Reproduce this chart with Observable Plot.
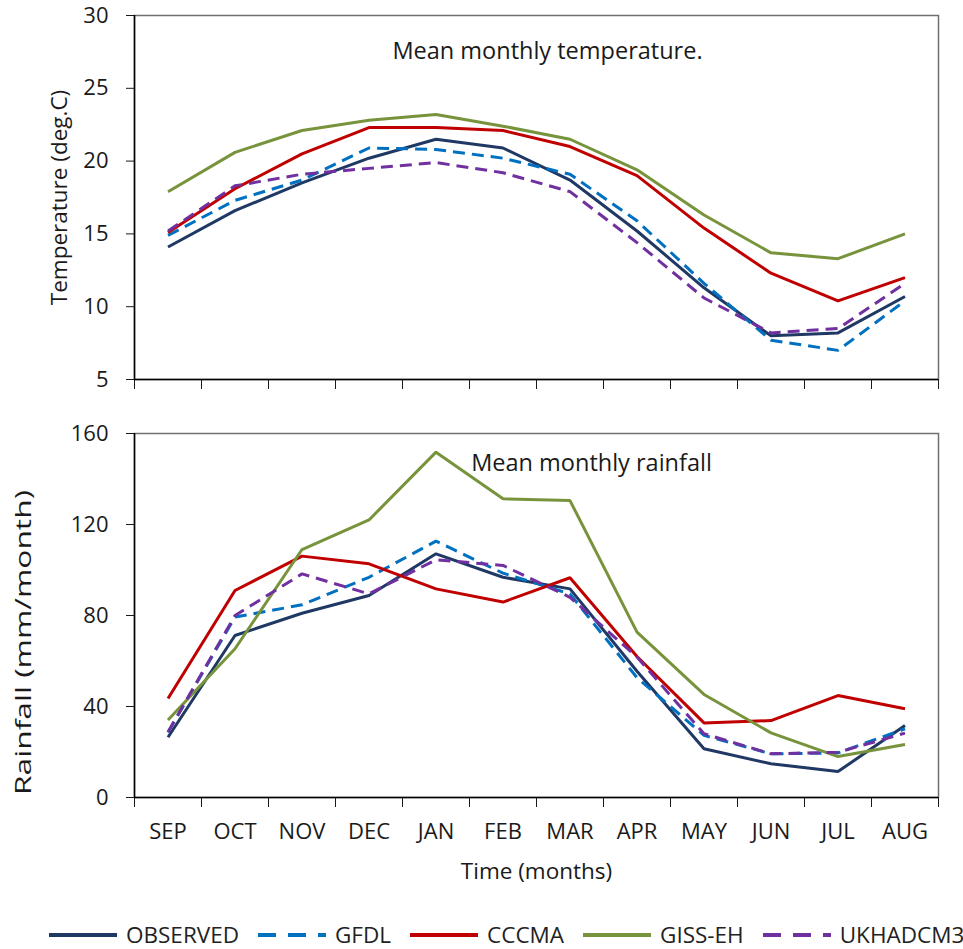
<!DOCTYPE html>
<html>
<head>
<meta charset="utf-8">
<script src="https://cdn.jsdelivr.net/npm/d3@7"></script>
<script src="https://cdn.jsdelivr.net/npm/@observablehq/plot@0.6"></script>
<style>
  html, body { margin: 0; padding: 0; background: #fff; overflow: hidden; }
  #wrap { position: relative; width: 963px; height: 949px; font-family: "Open Sans", sans-serif; color: #222; }
  #legend { position: absolute; left: 49px; top: 918px; display: flex; align-items: center; white-space: nowrap; font-size: 22.5px; line-height: 34px; }
  .item { display: flex; align-items: center; margin-right: 19px; }
  .item svg { margin-right: 9px; }
</style>
</head>
<body>
<div id="wrap"><div id="topChart"></div><div id="bottomChart"></div><div id="legend"></div></div>
<script>
const months = ["SEP","OCT","NOV","DEC","JAN","FEB","MAR","APR","MAY","JUN","JUL","AUG"];

const seriesNames = ["OBSERVED","GFDL","CCCMA","GISS-EH","UKHADCM3"];

const tempObserved = [14.1, 16.6, 18.5, 20.2, 21.5, 20.9, 18.7, 15.2, 11.3, 8.0, 8.2, 10.7];
const tempGFDL     = [14.9, 17.3, 18.7, 20.9, 20.8, 20.2, 19.1, 15.9, 11.6, 7.7, 7.0, 10.4];
const tempCCCMA    = [15.1, 18.1, 20.5, 22.3, 22.3, 22.1, 21.0, 19.0, 15.4, 12.3, 10.4, 12.0];
const tempGISS     = [17.9, 20.6, 22.1, 22.8, 23.2, 22.4, 21.5, 19.4, 16.3, 13.7, 13.3, 15.0];
const tempUKHADCM3 = [15.2, 18.3, 19.1, 19.5, 19.9, 19.2, 17.9, 14.4, 10.6, 8.2, 8.5, 11.6];

const rainObserved = [26.5, 71.2, 81.0, 88.8, 107.1, 96.8, 91.7, 55.5, 21.4, 14.8, 11.4, 31.6];
const rainGFDL     = [28.7, 79.3, 84.7, 96.8, 112.7, 98.6, 89.5, 52.7, 27.3, 19.2, 19.6, 30.2];
const rainCCCMA    = [43.5, 91.0, 106.1, 102.7, 91.7, 85.9, 96.6, 62.0, 32.8, 33.8, 44.8, 39.0];
const rainGISS     = [34.1, 65.4, 109.0, 122.0, 151.8, 131.3, 130.5, 72.7, 45.3, 28.4, 18.0, 23.3];
const rainUKHADCM3 = [28.7, 80.0, 98.3, 89.5, 104.5, 102.0, 88.0, 61.7, 28.0, 19.2, 19.9, 28.3];

const tempTicks = [5, 10, 15, 20, 25, 30];
const rainTicks = [0, 40, 80, 120, 160];

const colors = ["#1f3864", "#0070c0", "#c00000", "#77933c", "#7030a0"];
const dashes = [null, "12,7", null, null, "12,7"];

const tempSeries = [tempObserved, tempGFDL, tempCCCMA, tempGISS, tempUKHADCM3];
const rainSeries = [rainObserved, rainGFDL, rainCCCMA, rainGISS, rainUKHADCM3];

function lineMarks(series) {
  return series.map((vals, k) => Plot.line(vals, {
    x: (d, i) => i + 0.5,
    y: d => d,
    stroke: colors[k],
    strokeWidth: 3,
    strokeDasharray: dashes[k] || undefined,
    strokeLinejoin: "miter",
    strokeLinecap: "butt"
  }));
}

const baseStyle = { fontFamily: "Open Sans, sans-serif", fontSize: "22px", color: "#1a1a1a", background: "white", overflow: "visible" };

const topPlot = Plot.plot({
  width: 963, height: 400,
  marginLeft: 134, marginRight: 25, marginTop: 15, marginBottom: 21,
  style: baseStyle,
  x: { domain: [0, 12] },
  y: { domain: [5, 30] },
  marks: [
    Plot.frame({ stroke: "#6f6f6f", strokeWidth: 1.5 }),
    Plot.axisY({ ticks: tempTicks, tickSize: 8, tickPadding: 18, label: null, fontSize: 22 }),
    Plot.axisX({ ticks: d3.range(13), tickSize: 10, tickFormat: () => "", label: null }),
    Plot.ruleX([0], { stroke: "#000", strokeWidth: 1.5 }),
    Plot.ruleY([5], { stroke: "#000", strokeWidth: 1.5 }),
    ...lineMarks(tempSeries),
    Plot.text(["Mean monthly temperature."], { text: d => d, frameAnchor: "top", dx: 11, dy: 36, lineAnchor: "middle", fontSize: 23.5, fill: "#1a1a1a" }),
    Plot.text(["Temperature (deg.C)"], { text: d => d, frameAnchor: "left", dx: -75, rotate: -90, textAnchor: "middle", lineAnchor: "middle", fontSize: 22.5, fill: "#1a1a1a" })
  ]
});

const bottomPlot = Plot.plot({
  width: 963, height: 482,
  marginLeft: 134, marginRight: 25, marginTop: 33, marginBottom: 85,
  style: baseStyle,
  x: { domain: [0, 12] },
  y: { domain: [0, 160] },
  marks: [
    Plot.frame({ stroke: "#6f6f6f", strokeWidth: 1.5 }),
    Plot.axisY({ ticks: rainTicks, tickSize: 8, tickPadding: 18, label: null, fontSize: 22 }),
    Plot.axisX({ ticks: d3.range(13), tickSize: 10, tickFormat: () => "", label: null }),
    Plot.axisX({ ticks: d3.range(12).map(i => i + 0.5), tickSize: 0, tickPadding: 26, tickFormat: v => months[Math.floor(v)], label: null, fontSize: 22 }),
    Plot.ruleX([0], { stroke: "#000", strokeWidth: 1.5 }),
    Plot.ruleY([0], { stroke: "#000", strokeWidth: 1.5 }),
    ...lineMarks(rainSeries),
    Plot.text(["Mean monthly rainfall"], { text: d => d, frameAnchor: "top", dx: 55, dy: 30, lineAnchor: "middle", fontSize: 23.5, fill: "#1a1a1a" }),
    Plot.text(["Rainfall (mm/month)"], { text: d => d, frameAnchor: "left", dx: -111, dy: 27, rotate: -90, textAnchor: "middle", lineAnchor: "middle", fontSize: 22, fill: "#1a1a1a" }),
    Plot.text(["Time (months)"], { text: d => d, frameAnchor: "bottom", dy: 74, lineAnchor: "middle", fontSize: 22.5, fill: "#1a1a1a" })
  ]
});

document.getElementById("topChart").appendChild(topPlot);
document.getElementById("bottomChart").appendChild(bottomPlot);

d3.select(bottomPlot).selectAll("text").filter(function () { return this.textContent === "Rainfall (mm/month)"; })
  .attr("textLength", 305).attr("lengthAdjust", "spacingAndGlyphs");

const legend = d3.select("#legend");
seriesNames.forEach((name, k) => {
  const item = legend.append("div").attr("class", "item");
  const sw = item.append("svg").attr("width", 68).attr("height", 10);
  sw.append("line").attr("x1", 0).attr("x2", 68).attr("y1", 5).attr("y2", 5)
    .attr("stroke", colors[k]).attr("stroke-width", 4)
    .attr("stroke-dasharray", dashes[k] ? "18,12" : null);
  item.append("span").text(name);
});
</script>
</body>
</html>
